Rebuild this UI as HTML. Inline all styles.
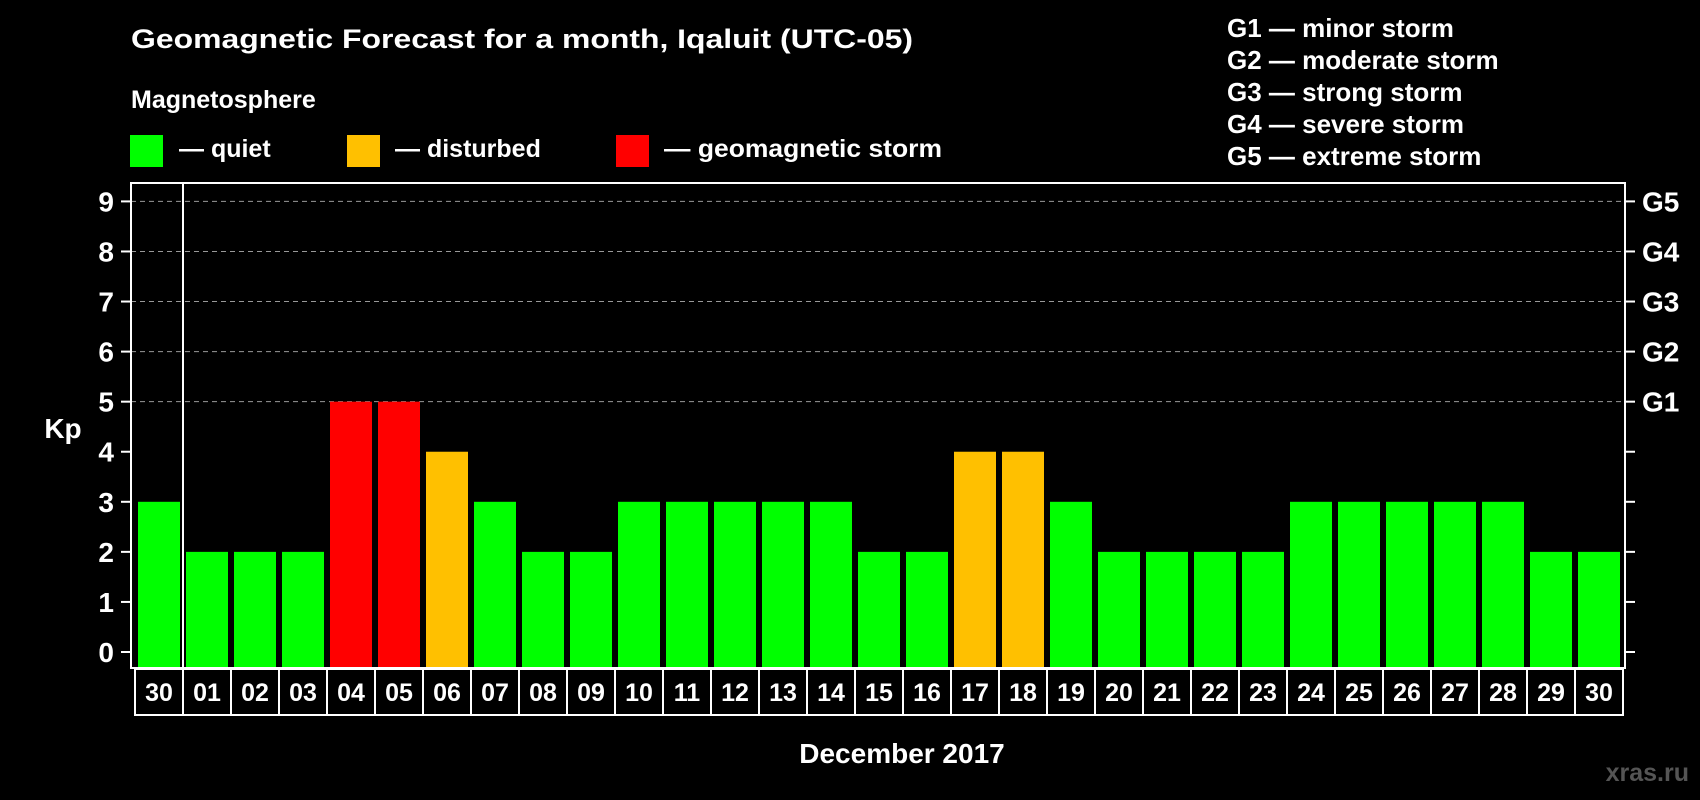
<!DOCTYPE html>
<html><head><meta charset="utf-8"><style>
html,body{margin:0;padding:0;background:#000;}
svg{display:block;font-family:"Liberation Sans",Arial,sans-serif;font-weight:bold;}
</style></head><body>
<svg id="chart" width="1700" height="800" viewBox="0 0 1700 800">
<rect width="1700" height="800" fill="#000"/>
<text x="131" y="48" fill="#fff" font-size="27" textLength="782" lengthAdjust="spacingAndGlyphs">Geomagnetic Forecast for a month, Iqaluit (UTC-05)</text>
<text x="131" y="108" fill="#fff" font-size="25">Magnetosphere</text>
<g><rect x="130" y="135" width="33" height="32" fill="#00ff00"/><text x="179" y="157" fill="#fff" font-size="25">— quiet</text></g>
<g><rect x="347" y="135" width="33" height="32" fill="#ffc000"/><text x="395" y="157" fill="#fff" font-size="25">— disturbed</text></g>
<g><rect x="616" y="135" width="33" height="32" fill="#ff0000"/><text x="664" y="157" fill="#fff" font-size="25" textLength="278" lengthAdjust="spacingAndGlyphs">— geomagnetic storm</text></g>
<g fill="#fff" font-size="26">
<text x="1227" y="37">G1 — minor storm</text>
<text x="1227" y="69">G2 — moderate storm</text>
<text x="1227" y="101">G3 — strong storm</text>
<text x="1227" y="133">G4 — severe storm</text>
<text x="1227" y="165">G5 — extreme storm</text>
</g>
<text x="63" y="438" fill="#fff" font-size="28" text-anchor="middle">Kp</text>
<text x="902" y="763" fill="#fff" font-size="28" text-anchor="middle">December 2017</text>
<text x="1689" y="781" fill="#555" font-size="25" text-anchor="end">xras.ru</text>
<g id="grid"></g><g id="bars"></g><g id="axes"></g>
</svg>
<script>
const days=["30","01","02","03","04","05","06","07","08","09","10","11","12","13","14","15","16","17","18","19","20","21","22","23","24","25","26","27","28","29","30"];
const kp=[3,2,2,2,5,5,4,3,2,2,3,3,3,3,3,2,2,4,4,3,2,2,2,2,3,3,3,3,3,2,2];
const yTicks=[0,1,2,3,4,5,6,7,8,9];
const gLabels=["G1","G2","G3","G4","G5"];
const NS="http://www.w3.org/2000/svg";
const L=131,R=1625,T=183,B=668;
const y=v=>652-v*(652-201.4)/9;
const x=i=>159+i*48;
function mk(tag,attrs,parent,txt){const e=document.createElementNS(NS,tag);for(const k in attrs)e.setAttribute(k,attrs[k]);if(txt!==undefined)e.textContent=txt;parent.appendChild(e);return e;}
const grid=document.getElementById('grid'),bars=document.getElementById('bars'),axes=document.getElementById('axes');
yTicks.forEach(v=>{
  if(v>=5){const g=mk('line',{x1:L,x2:R,y1:y(v),y2:y(v),stroke:'#999','stroke-dasharray':'5,4','stroke-width':1},grid);
  
  }
  const t1=mk('line',{x1:L-10,x2:L,y1:y(v),y2:y(v),stroke:'#fff','stroke-width':2},axes);
  
  
  const t2=mk('line',{x1:R,x2:R+10,y1:y(v),y2:y(v),stroke:'#fff','stroke-width':2},axes);
  
  
  const lb=mk('text',{x:114,y:y(v)+10,fill:'#fff','font-size':28,'text-anchor':'end'},axes,String(v));
  
  
});
gLabels.forEach((g,i)=>{
  const t=mk('text',{x:1642,y:y(5+i)+10,fill:'#fff','font-size':28},axes,g);
  
  
});
kp.forEach((v,i)=>{
  const c=v>=5?'#ff0000':(v>=4?'#ffc000':'#00ff00');
  const b=mk('rect',{x:x(i)-21,y:y(v),width:42,height:B-y(v),fill:c},bars);
  
  
  const cell=mk('rect',{x:x(i)-24,y:669,width:48,height:46,fill:'none',stroke:'#fff','stroke-width':2},axes);
  
  
  const t=mk('text',{x:x(i),y:701,fill:'#fff','font-size':25,'text-anchor':'middle'},axes,days[i]);
  
  
});
const fr=mk('rect',{x:L,y:T,width:R-L,height:B-T,fill:'none',stroke:'#fff','stroke-width':2},axes);


const sep=mk('line',{x1:x(0)+24,x2:x(0)+24,y1:T,y2:B,stroke:'#fff','stroke-width':2},axes);


</script>
</body></html>
